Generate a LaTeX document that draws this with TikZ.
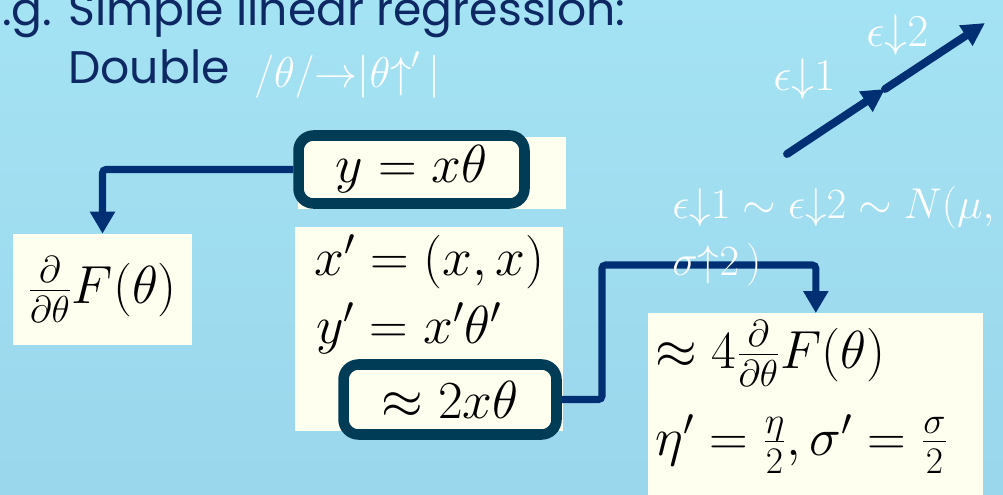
\RequirePackage{fix-cm}
\documentclass[tikz,border=0pt]{standalone}
\usepackage{xcolor}
\usepackage{fontspec}
\usepackage{tikz}
\usetikzlibrary{arrows.meta, positioning}
\newfontfamily\slidefont{Poppins}
\definecolor{slidebg}{RGB}{164,227,243}
\definecolor{slidebgdark}{RGB}{154,214,236}
\definecolor{navy}{RGB}{0,48,115}
\definecolor{titleblue}{RGB}{14,40,100}
\definecolor{framec}{RGB}{0,60,85}
\definecolor{cream}{RGB}{255,255,240}

\begin{document}
\begin{tikzpicture}[
        x=0.02cm, y=-0.02cm,
        paper/.style={rectangle, fill=cream, inner sep=0pt},
        eqframe/.style={rectangle, draw=framec, fill=cream, line width=6pt,
                        rounded corners=0.3cm, inner sep=0pt},
        eq/.style={inner sep=0pt, font=\fontsize{30.5}{36}\selectfont},
        note/.style={inner sep=0pt, text=white, font=\fontsize{24.5}{28}\selectfont},
        slide/.style={inner sep=0pt, text=titleblue, font=\slidefont\fontsize{26}{31}\selectfont},
        arr/.style={-{Triangle[width=0.48cm, length=0.44cm]}, navy, line width=4pt, rounded corners=2pt},
        vec/.style={-{Triangle[width=0.46cm, length=0.46cm]}, navy, line width=4.5pt, line cap=round},
    ]
        \fill[top color=slidebg, bottom color=slidebgdark] (0,0) rectangle (1003,494);
        \useasboundingbox (0,0) rectangle (1003,494);

        \node[slide, anchor=base west] (line1) at (2,25) {.g. Simple linear regression:};
        \node[slide, anchor=base west] (line2) at (68,83) {Double};
        \node[note, anchor=base west, font=\fontsize{24.5}{28}\selectfont] (swap) at (254,87)
            {$/\theta/{\rightarrow}|\theta{\uparrow}'\,|$};

        \node[paper, eq, minimum width=3.58cm, minimum height=2.22cm] (fbox) at (102.5,289.5)
            {$\frac{\partial}{\partial\theta}F(\theta)$};
        \node[paper, minimum width=5.36cm, minimum height=1.44cm] (yback) at (432,173) {};
        \node[eqframe, eq, minimum width=4.52cm, minimum height=1.36cm] (yframe) at (411.5,169.5) {$y=x\theta$};

        \node[paper, minimum width=5.36cm, minimum height=4.08cm] (mbox) at (429,329) {};
        \node[eq, anchor=base west] (xdup) at (314,275) {$x'=(x,x)$};
        \node[eq, anchor=base west] (ydup) at (316,343) {$y'=x'\theta'$};
        \node[eqframe, eq, minimum width=4.26cm, minimum height=1.4cm] (aframe) at (450,399.5) {$\approx 2x\theta$};

        \node[paper, anchor=north west, minimum width=6.7cm, minimum height=3.8cm] (rbox) at (648,313) {};
        \node[eq, anchor=base west] (rgrad) at (655,368) {$\approx 4\frac{\partial}{\partial\theta}F(\theta)$};
        \node[eq, anchor=base west] (rrate) at (655,455) {$\eta'=\frac{\eta}{2},\sigma'=\frac{\sigma}{2}$};

        \coordinate (bend) at (602,265);
        \draw[arr] (yframe.west) -| (fbox.north);
        \draw[arr] (aframe.east) -| (bend) -| (rbox.north);

        \coordinate (e0) at (787,154);
        \coordinate (e1) at (885,89);
        \coordinate (e2) at (985,23);
        \draw[vec] (e0) -- (e1);
        \draw[vec] (e1) -- (e2);

        \node[note, anchor=base west, font=\fontsize{26}{30}\selectfont] (eps2) at (866,46) {$\epsilon{\downarrow}2$};
        \node[note, anchor=base west, font=\fontsize{26}{30}\selectfont] (eps1) at (773,90) {$\epsilon{\downarrow}1$};
        \node[note, anchor=base west] (dist) at (672,218) {$\epsilon{\downarrow}1\sim\epsilon{\downarrow}2\sim N(\mu,$};
        \node[note, anchor=base west] (dist2) at (672,275) {$\sigma{\uparrow}2\,)$};
    \end{tikzpicture}
\end{document}
